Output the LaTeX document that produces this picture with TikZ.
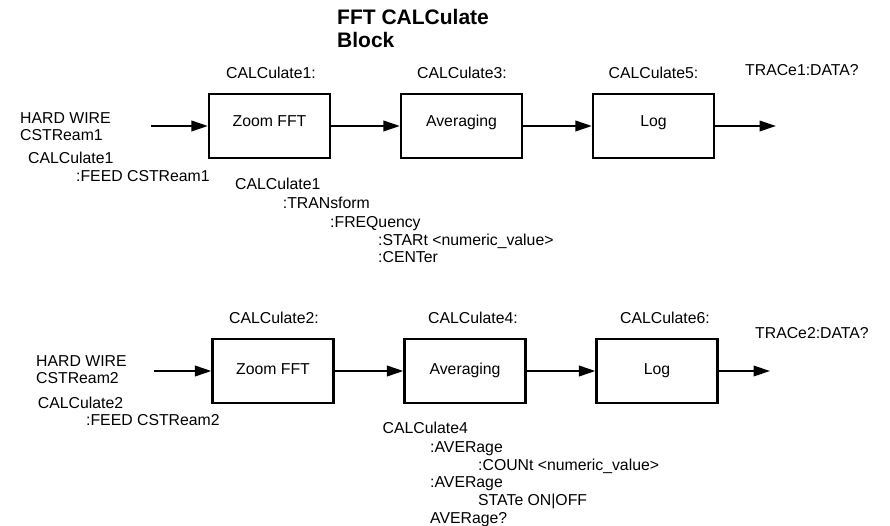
\documentclass[tikz,border=0pt]{standalone}
\usepackage{fontspec}
\setmainfont{Liberation Sans}
\usetikzlibrary{arrows.meta}
\tikzset{
  blk/.style={draw, line width=2.2pt, minimum width=121pt, minimum height=64pt, inner sep=0pt},
  txt/.style={font=\fontsize{15.8}{18}\selectfont, inner sep=0pt, text height=11.3pt, text depth=0pt},
  ttl/.style={font=\fontsize{21}{23}\selectfont\bfseries, inner sep=0pt, text height=15pt, text depth=0pt, anchor=west},
  lt/.style={txt, anchor=west},
  conn/.style={line width=2.2pt, -{Triangle[length=16.5pt,width=10.5pt]}}
}
\begin{document}
\begin{tikzpicture}[x=1pt,y=-1pt]
\useasboundingbox (0,0) rectangle (890,526);
% title
\node[ttl] (t1) at (337,17) {FFT CALCulate};
\node[ttl] (t2) at (337,40) {Block};
% row 1 boxes
\node[blk] (z1) at (269.5,126) {};
\node[blk] (a1) at (461.5,126) {};
\node[blk] (l1) at (653.5,126) {};
\node[txt] (z1t) at (269.5,121) {Zoom FFT};
\node[txt] (a1t) at (461.5,121) {Averaging};
\node[txt] (l1t) at (653.5,121) {Log};
\coordinate (in1) at (151,126);
\coordinate (out1) at (776,126);
\draw[conn] (in1) -- (z1.west);
\draw[conn] (z1.east) -- (a1.west);
\draw[conn] (a1.east) -- (l1.west);
\draw[conn] (l1.east) -- (out1);
\node[txt] (c1) at (271,73) {CALCulate1:};
\node[txt] (c3) at (462,73) {CALCulate3:};
\node[txt] (c5) at (653.5,72.5) {CALCulate5:};
\node[lt] (tr1) at (745,70) {TRACe1:DATA?};
\node[lt] (hw1) at (20,117.5) {HARD WIRE};
\node[lt] (cs1) at (20,134.5) {CSTReam1};
\node[lt] (f1a) at (28,157.5) {CALCulate1};
\node[lt] (f1b) at (76,175.5) {:FEED CSTReam1};
\node[lt] (u1) at (235,184) {CALCulate1};
\node[lt] (u2) at (282.7,203) {:TRANsform};
\node[lt] (u3) at (330,222) {:FREQuency};
\node[lt] (u4) at (378,240) {:STARt <numeric\_value>};
\node[lt] (u5) at (378,257) {:CENTer};
% row 2 boxes
\node[blk] (z2) at (273,371) {};
\node[blk] (a2) at (465,371) {};
\node[blk] (l2) at (657,371) {};
\node[txt] (z2t) at (273,368.5) {Zoom FFT};
\node[txt] (a2t) at (465,368.5) {Averaging};
\node[txt] (l2t) at (657,368.5) {Log};
\coordinate (in2) at (154,371);
\coordinate (out2) at (770,371);
\draw[conn] (in2) -- (z2.west);
\draw[conn] (z2.east) -- (a2.west);
\draw[conn] (a2.east) -- (l2.west);
\draw[conn] (l2.east) -- (out2);
\node[txt] (c2) at (274,318) {CALCulate2:};
\node[txt] (c4) at (473,318) {CALCulate4:};
\node[txt] (c6) at (665,318) {CALCulate6:};
\node[lt] (tr2) at (755,332.5) {TRACe2:DATA?};
\node[lt] (hw2) at (36,360.5) {HARD WIRE};
\node[lt] (cs2) at (36,378) {CSTReam2};
\node[lt] (f2a) at (37.7,402.8) {CALCulate2};
\node[lt] (f2b) at (86,419.5) {:FEED CSTReam2};
\node[lt] (v1) at (382.5,428) {CALCulate4};
\node[lt] (v2) at (430,446.7) {:AVERage};
\node[lt] (v3) at (478,465) {:COUNt <numeric\_value>};
\node[lt] (v4) at (430,482) {:AVERage};
\node[lt] (v5) at (478,500) {STATe ON|OFF};
\node[lt] (v6) at (430,517.7) {AVERage?};
\end{tikzpicture}
\end{document}
